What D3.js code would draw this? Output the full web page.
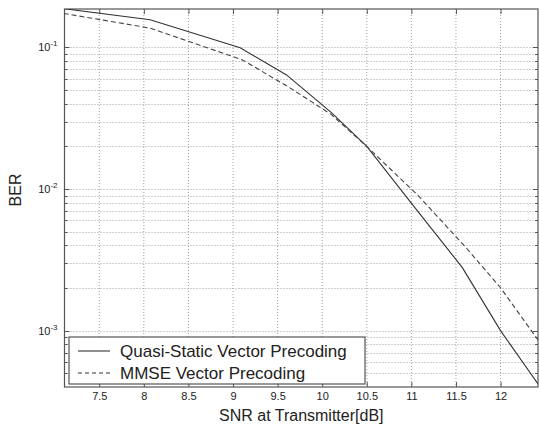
<!DOCTYPE html>
<html>
<head>
<meta charset="utf-8">
<script src="https://cdn.jsdelivr.net/npm/d3@7"></script>
<style>
    body { margin: 0; background: #fff; }
    #chart { width: 539px; height: 431px; }
    text { font-family: "Liberation Sans", Arial, sans-serif; fill: #222; }
</style>
</head>
<body>
<div id="chart"></div>
<script>
// values
let snrQuasi = [7.1, 8.07, 9.08, 9.6, 10.1, 10.5, 11.07, 11.57, 12.0, 12.42];
let berQuasi = [0.188, 0.157, 0.0995, 0.064, 0.0348, 0.02, 0.00698, 0.0028, 0.001, 0.00042];

let snrMmse = [7.1, 8.07, 9.1, 9.6, 10.1, 10.5, 11.07, 11.6, 12.0, 12.42];
let berMmse = [0.174, 0.137, 0.082, 0.0537, 0.0337, 0.02, 0.00908, 0.00394, 0.00201, 0.00086];

let xTicks = [7.5, 8, 8.5, 9, 9.5, 10, 10.5, 11, 11.5, 12];
let yDecades = [1e-3, 1e-2, 1e-1];
let yExponents = ['-3', '-2', '-1'];

let seriesNames = ['Quasi-Static Vector Precoding', 'MMSE Vector Precoding'];

class BerChart {

    constructor(parentElement){
        this.parentElement = parentElement;
        this.initVis();
    }

    initVis(){
        let vis = this;

        vis.margin = {top: 9, right: 1, bottom: 44, left: 64.5};
        vis.width = 539 - vis.margin.left - vis.margin.right;
        vis.height = 431 - vis.margin.top - vis.margin.bottom;

        vis.svg = d3.select('#' + vis.parentElement).append('svg')
            .attr('width', 539)
            .attr('height', 431)
            .append('g')
            .attr('transform', `translate(${vis.margin.left}, ${vis.margin.top})`);

        vis.xScale = d3.scaleLinear()
            .domain([7.11, 12.42])
            .range([0, vis.width]);

        vis.yScale = d3.scaleLog()
            .domain([4.0e-4, 0.187])
            .range([vis.height, 0]);

        vis.svg.append('clipPath').attr('id', 'plotClip')
            .append('rect')
            .attr('width', vis.width)
            .attr('height', vis.height);

        // minor + major y values for the grid
        vis.yGrid = [];
        [1e-4, 1e-3, 1e-2, 1e-1].forEach(d => {
            for (let k = 1; k < 10; k++) {
                let v = d * k;
                if (v > vis.yScale.domain()[0] * 1.001 && v < vis.yScale.domain()[1]) vis.yGrid.push(v);
            }
        });

        vis.updateVis();
    }

    updateVis(){
        let vis = this;

        // grid
        vis.svg.append('g').attr('class', 'grid')
            .selectAll('line.gx')
            .data(xTicks)
            .enter().append('line')
            .attr('x1', d => vis.xScale(d))
            .attr('x2', d => vis.xScale(d))
            .attr('y1', 0)
            .attr('y2', vis.height)
            .attr('stroke', '#a0a0a0')
            .attr('stroke-width', 1)
            .attr('stroke-dasharray', '1,2');

        vis.svg.append('g').attr('class', 'grid')
            .selectAll('line.gy')
            .data(vis.yGrid)
            .enter().append('line')
            .attr('x1', 0)
            .attr('x2', vis.width)
            .attr('y1', d => Math.round(vis.yScale(d)) + 0.5)
            .attr('y2', d => Math.round(vis.yScale(d)) + 0.5)
            .attr('stroke', '#a0a0a0')
            .attr('stroke-width', 1)
            .attr('stroke-dasharray', '1,2');

        // axes (ticks inside, both sides)
        vis.xAxis = d3.axisBottom(vis.xScale).tickValues(xTicks).tickSizeInner(-5).tickSizeOuter(0)
            .tickFormat(d3.format('~g')).tickPadding(5);
        vis.xAxisTop = d3.axisTop(vis.xScale).tickValues(xTicks).tickSizeInner(-5).tickSizeOuter(0).tickFormat('');

        vis.svg.append('g')
            .attr('class', 'axis x-axis')
            .attr('transform', `translate(0, ${vis.height})`)
            .call(vis.xAxis);
        vis.svg.append('g')
            .attr('class', 'axis x-axis-top')
            .call(vis.xAxisTop);

        let minorTick = d => yDecades.includes(d) ? -5 : -3;
        let yLeft = vis.svg.append('g').attr('class', 'axis y-axis');
        yLeft.selectAll('line')
            .data(vis.yGrid)
            .enter().append('line')
            .attr('x1', 0)
            .attr('x2', d => -minorTick(d))
            .attr('y1', d => Math.round(vis.yScale(d)) + 0.5)
            .attr('y2', d => Math.round(vis.yScale(d)) + 0.5)
            .attr('stroke', '#555');
        let yRight = vis.svg.append('g').attr('class', 'axis y-axis-right');
        yRight.selectAll('line')
            .data(vis.yGrid)
            .enter().append('line')
            .attr('x1', vis.width)
            .attr('x2', d => vis.width + minorTick(d))
            .attr('y1', d => Math.round(vis.yScale(d)) + 0.5)
            .attr('y2', d => Math.round(vis.yScale(d)) + 0.5)
            .attr('stroke', '#555');

        // y tick labels 10^n
        let yLab = vis.svg.append('g').selectAll('text')
            .data(yDecades)
            .enter().append('text')
            .attr('x', -7)
            .attr('y', d => vis.yScale(d) + 4)
            .attr('text-anchor', 'end')
            .style('font-size', '11px');
        yLab.append('tspan').text('10');
        yLab.append('tspan')
            .attr('dy', -5)
            .style('font-size', '8px')
            .text((d, i) => yExponents[i]);

        vis.svg.selectAll('.x-axis text').style('font-size', '11px').style('font-family', '"Liberation Sans", Arial, sans-serif').attr('fill', '#222');
        vis.svg.selectAll('.axis line').attr('stroke', '#555');
        vis.svg.selectAll('.axis path').remove();

        // frame
        vis.svg.append('rect')
            .attr('width', vis.width)
            .attr('height', vis.height)
            .attr('fill', 'none')
            .attr('stroke', '#555')
            .attr('stroke-width', 1.2);

        // curves
        let line = d3.line()
            .x(d => vis.xScale(d[0]))
            .y(d => vis.yScale(d[1]));

        let curves = vis.svg.append('g').attr('clip-path', 'url(#plotClip)');
        curves.append('path')
            .datum(d3.zip(snrQuasi, berQuasi))
            .attr('d', line)
            .attr('fill', 'none')
            .attr('stroke', '#333')
            .attr('stroke-width', 1.1);
        curves.append('path')
            .datum(d3.zip(snrMmse, berMmse))
            .attr('d', line)
            .attr('fill', 'none')
            .attr('stroke', '#444')
            .attr('stroke-width', 1.1)
            .attr('stroke-dasharray', '5,3');

        // legend
        let legend = vis.svg.append('g')
            .attr('transform', `translate(${69 - vis.margin.left}, ${337 - vis.margin.top})`);
        legend.append('rect')
            .attr('width', 296)
            .attr('height', 47)
            .attr('fill', '#fff')
            .attr('stroke', '#555')
            .attr('stroke-width', 1.2);
        seriesNames.forEach((name, i) => {
            let y = 14 + i * 22;
            legend.append('line')
                .attr('x1', 9).attr('x2', 41)
                .attr('y1', y).attr('y2', y)
                .attr('stroke', '#333')
                .attr('stroke-width', 1.1)
                .attr('stroke-dasharray', i === 0 ? null : '4,3');
            legend.append('text')
                .attr('x', 51)
                .attr('y', y + 6)
                .style('font-size', '17px')
                .text(name);
        });

        // axis titles
        vis.svg.append('text')
            .attr('x', vis.width / 2)
            .attr('y', 421 - vis.margin.top)
            .attr('text-anchor', 'middle')
            .style('font-size', '16px')
            .text('SNR at Transmitter[dB]');

        vis.svg.append('text')
            .attr('transform', `translate(${21 - vis.margin.left}, ${190 - vis.margin.top}) rotate(-90)`)
            .attr('text-anchor', 'middle')
            .style('font-size', '16px')
            .text('BER');
    }
}

new BerChart('chart');
</script>
</body>
</html>
